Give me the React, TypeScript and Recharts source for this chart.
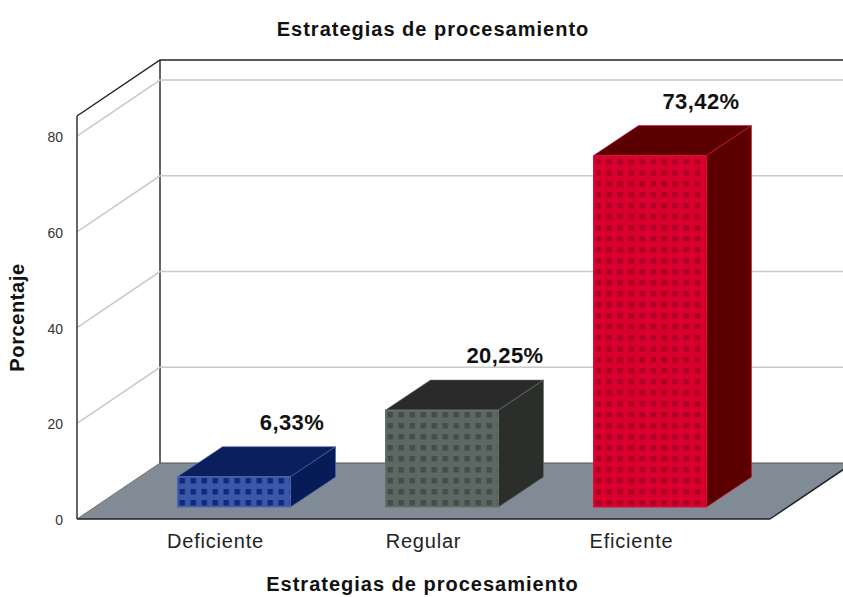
import { BarChart, Bar, XAxis, YAxis, ReferenceLine, LabelList } from "recharts";

const categories = ["Deficiente", "Regular", "Eficiente"];
const percentages = [6.33, 20.25, 73.42];
const labels = ["6,33%", "20,25%", "73,42%"];
const gridTicks = [20, 40, 60, 80];
const yTicks = [0, 20, 40, 60, 80];
const wallTop = 84.2;

const data = categories.map((name, i) => ({ name, value: percentages[i], label: labels[i] }));

// colours per bar: face, squares, top, side, edge
const barStyles = [
  { face: "#3b58a8", dot: "#10297c", top: "#0b1f5e", side: "#071b56", edge: "#4a66ad" },
  { face: "#5c6862", dot: "#414e4d", top: "#2a2a2a", side: "#2c2e2c", edge: "#666e6a" },
  { face: "#d9002e", dot: "#ac0024", top: "#5a0000", side: "#5a0000", edge: "#d9103a" },
];
const labelNudge = [58, 63, 51];

// 3d offsets
const wallDx = 83;
const wallDy = -56;
const barDx = 45;
const barDy = -30;
const barLift = 12;
const rightEnd = 900;
const font = "'Liberation Sans', Arial, sans-serif";

function Box(props: any) {
  const { x, y, width, height, index } = props;
  const s = barStyles[index];
  const top = y - barLift;
  const bottom = y + height - barLift;
  const right = x + width;
  return (
    <g>
      <defs>
        <pattern id={`dots${index}`} x={x + 2} y={bottom - 7} width={11} height={11} patternUnits="userSpaceOnUse">
          <rect width={11} height={11} fill={s.face} />
          <rect x={0} y={0} width={5.5} height={5.5} fill={s.dot} />
        </pattern>
      </defs>
      <polygon
        points={`${x},${top} ${x + barDx},${top + barDy} ${right + barDx},${top + barDy} ${right},${top}`}
        fill={s.top}
        stroke={s.edge}
        strokeWidth={0.6}
      />
      <polygon
        points={`${right},${top} ${right + barDx},${top + barDy} ${right + barDx},${bottom + barDy} ${right},${bottom}`}
        fill={s.side}
        stroke={s.edge}
        strokeWidth={0.6}
      />
      <rect x={x} y={top} width={width} height={bottom - top} fill={`url(#dots${index})`} stroke={s.edge} strokeWidth={1} />
    </g>
  );
}

function BarLabel(props: any) {
  const { x, y, width, value, index } = props;
  return (
    <text
      x={x + width / 2 + labelNudge[index]}
      y={y - barLift + barDy - 17}
      textAnchor="middle"
      fontFamily={font}
      fontWeight="bold"
      fontSize={22}
      letterSpacing={0.4}
      fill="#111"
    >
      {value}
    </text>
  );
}

function GridLine(props: any) {
  const { x1, y1, x2 } = props;
  const left = Math.min(x1, x2);
  return (
    <polyline
      points={`${left},${y1} ${left + wallDx},${y1 + wallDy} ${rightEnd},${y1 + wallDy}`}
      fill="none"
      stroke="#c9c9c9"
      strokeWidth={1.5}
    />
  );
}

function WallTop(props: any) {
  const { x1, y1, x2 } = props;
  const left = Math.min(x1, x2);
  return (
    <polyline
      points={`${left},${y1} ${left + wallDx},${y1 + wallDy} ${rightEnd},${y1 + wallDy}`}
      fill="none"
      stroke="#222"
      strokeWidth={1.5}
    />
  );
}

function Floor(props: any) {
  const { x1, y1, x2 } = props;
  const left = Math.min(x1, x2);
  const right = Math.max(x1, x2);
  const backY = y1 + wallDy;
  return (
    <g>
      <polygon
        points={`${left},${y1} ${right},${y1} ${right + wallDx},${backY} ${left + wallDx},${backY}`}
        fill="#808b96"
      />
      <line x1={left + wallDx} y1={backY} x2={rightEnd} y2={backY} stroke="#555" strokeWidth={1} />
      <line x1={left} y1={y1} x2={left + wallDx} y2={backY} stroke="#777" strokeWidth={1} />
      <line x1={right} y1={y1} x2={right + wallDx} y2={backY} stroke="#222" strokeWidth={1.5} />
      <line x1={left + wallDx} y1={backY} x2={left + wallDx} y2={backY - 403} stroke="#333" strokeWidth={1.5} />
    </g>
  );
}

function CategoryTick(props: any) {
  const { x, y, payload } = props;
  return (
    <text x={x - 18} y={y + 21} textAnchor="middle" fontFamily={font} fontSize={20} letterSpacing={0.8} fill="#222">
      {payload.value}
    </text>
  );
}

export default function App() {
  return (
    <div style={{ position: "absolute", left: 0, top: 0, width: 843, height: 597, overflow: "hidden", background: "#fff" }}>
      <div
        style={{
          position: "absolute",
          left: 0,
          top: 18,
          width: 866,
          textAlign: "center",
          fontFamily: font,
          fontWeight: "bold",
          fontSize: 20,
          letterSpacing: 1,
          color: "#111",
        }}
      >
        Estrategias de procesamiento
      </div>
      <BarChart
        width={843}
        height={597}
        data={data}
        margin={{ top: 116, right: 73, bottom: 0, left: 0 }}
        barSize={113}
        style={{ overflow: "visible" }}
      >
        <ReferenceLine y={0} shape={Floor} ifOverflow="visible" zIndex={100} />
        {gridTicks.map((t) => (
          <ReferenceLine key={t} y={t} shape={GridLine} ifOverflow="visible" zIndex={100} />
        ))}
        <ReferenceLine y={wallTop} shape={WallTop} ifOverflow="visible" zIndex={100} />
        <XAxis
          dataKey="name"
          padding={{ left: 52.5, right: 16.5 }}
          tick={CategoryTick}
          tickLine={false}
          axisLine={{ stroke: "#222", strokeWidth: 1.5 }}
          label={{
            value: "Estrategias de procesamiento",
            position: "insideBottom",
            offset: 6,
            dx: -1,
            style: { fontFamily: font, fontWeight: "bold", fontSize: 20, letterSpacing: 1, fill: "#111" },
          }}
          height={78}
        />
        <YAxis
          width={77}
          domain={[0, wallTop]}
          ticks={yTicks}
          interval={0}
          tickLine={false}
          tickMargin={8}
          axisLine={{ stroke: "#333", strokeWidth: 1.5 }}
          tick={{ fontFamily: font, fontSize: 14, fill: "#333", dy: 1 }}
          label={{
            value: "Porcentaje",
            angle: -90,
            position: "insideLeft",
            dx: 12,
            dy: 0,
            style: { fontFamily: font, fontWeight: "bold", fontSize: 20, letterSpacing: 0.6, fill: "#111", textAnchor: "middle" },
          }}
        />
        <Bar dataKey="value" shape={Box} isAnimationActive={false}>
          <LabelList dataKey="label" content={BarLabel} />
        </Bar>
      </BarChart>
    </div>
  );
}
